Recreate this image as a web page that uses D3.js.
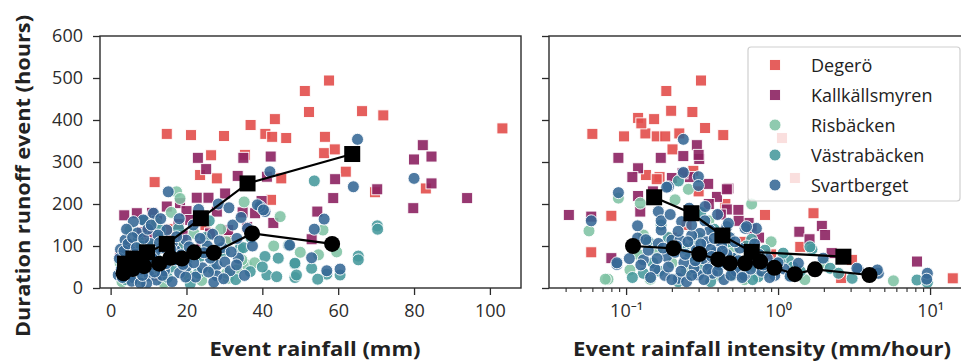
<!DOCTYPE html>
<html><head><meta charset="utf-8">
<script src="https://cdn.jsdelivr.net/npm/d3@7"></script>
<style>
body{margin:0;background:#fff;}
svg{display:block;font-family:"Open Sans","Noto Sans",sans-serif;}
</style></head><body>
<svg id="chart" width="961" height="363"></svg>
<script>
// ---------- categories ----------
const sites = ["Degerö","Kallkällsmyren","Risbäcken","Västrabäcken","Svartberget"];
const siteColors = ["#e24e4b","#8c2262","#7fc3a4","#45999c","#366895"];
const siteShapes = ["square","square","circle","circle","circle"];

// ---------- ticks ----------
const yTicks = [0,100,200,300,400,500,600];
const xTicksLeft = [0,20,40,60,80,100];
const xTicksRight = [0.1,1,10];
const xTickLabelsRight = ["10⁻¹","10⁰","10¹"];
const xMinorRight = [0.04,0.05,0.06,0.07,0.08,0.09,0.2,0.3,0.4,0.5,0.6,0.7,0.8,0.9,2,3,4,5,6,7,8,9];

// ---------- left panel: [event rainfall (mm), duration (h)] ----------
const degLeft = [[14.8,367],[21.2,364],[29.9,362],[36.9,388],[40.8,367],[42.6,360],[43.3,402],[46.3,357],[51.2,469],[52.3,419],[57.6,494],[56.5,360],[56.3,321],[59.1,330],[66.3,421],[71.9,411],[103.3,380],[62,277],[69.7,228],[83.1,237],[11.6,252],[28,261],[23.6,269],[45,261],[42.3,210],[35.4,317],[26.5,316],[5,85],[8.5,120],[10.5,60],[15.5,140],[18,95],[25,150],[30.5,120],[4,40],[12,30]];
const kalLeft = [[23,310],[35,310],[42.2,313],[25.2,283],[82.3,340],[80,306],[84.6,313],[59.2,259],[70.3,235],[84.6,249],[58.7,214],[79.8,190],[94,214],[54.5,182],[53,116],[33.5,267],[41.2,265],[3.6,173],[6.9,178],[10.9,179],[14.8,194],[18.3,202],[20,183],[22.7,215],[25.8,215],[30.2,225],[34.8,180],[38.1,178],[39.8,207],[42.9,155],[31,138],[17.9,152],[10.9,130],[8.2,133],[2.5,75],[14.8,114],[21,162],[26.2,130],[3,58],[5.2,100],[12.2,160],[28,182],[36,145],[19,125],[24,100],[8,90]];
const risLeft = [[17.4,229],[18.3,213],[44.7,170],[56,138],[59.6,86],[54.8,79],[30.6,110],[35.9,55],[31,23],[5.1,138],[34.6,67],[33.2,43],[30.6,35],[13,40],[8,20],[20.4,30],[25,95],[15,60],[11,100],[3,15],[6,50],[22,130],[27,70],[38,60],[16,180],[9,75],[2.5,60],[35.2,205],[14,12],[24,18],[29,140],[7,30],[12,155],[19,85],[43,100],[50,85]];
const vasLeft = [[53.7,255],[70.3,148],[70.4,140],[65.3,76],[65.3,67],[48.6,57],[53,47],[57,33],[60.5,31],[48.6,25],[54.6,21],[46.9,102],[40.7,75],[44.2,71],[48.6,59],[36.8,39],[41.2,31],[43.8,27],[49,31],[34.1,94],[35,96],[23.6,75],[23.1,35],[17.9,142],[13,138],[7.3,114],[13,122],[10,45],[6,30],[15,25],[20,65],[27,45],[4,20],[9,160],[18,100],[25,120],[30,85],[12,70],[3,35],[16,50],[33,20],[21,10],[8,100],[26,160],[37,120],[40,50]];
const svaLeft = [[65.1,354],[64,241],[80,261],[56.3,164],[53.7,140],[53,72],[57,41],[60.5,45],[42,277],[40.7,182],[39.4,194],[38.7,198],[40.3,186],[33.3,118],[33.7,71],[28,55],[20,51],[28,29],[17,90],[14.8,138],[11.3,178],[8.6,162],[6,158],[3.8,114],[10.4,106],[5.1,90],[2,31],[21.8,150],[23.6,162],[19.9,114],[17,67],[15.2,229],[47.2,102],[3.2,50],[4.4,72],[5.3,40],[6.2,24],[7.4,62],[8.1,44],[9.3,84],[10.2,29],[11.4,56],[12.1,19],[13.3,95],[14.2,41],[15.6,76],[16.3,108],[18.2,36],[19.1,56],[21.3,81],[22.4,26],[24.2,48],[25.5,100],[26.3,71],[27.2,14],[29.4,96],[30.1,62],[31.5,41],[32.2,150],[34.4,168],[36.1,142],[37.4,100],[12.5,126],[7.1,131],[5.6,16],[9.5,11],[16.2,15],[2.6,92],[4.2,140],[18.1,165],[23.2,187],[28.4,200],[31.2,191],[3.1,25],[4.8,58],[6.6,80],[7.8,12],[9.9,66],[11.8,88],[13.6,30],[2.8,44],
  [2.3,70],[3.5,88],[4.6,105],[5.8,120],[6.8,96],[7.9,75],[8.7,118],[9.8,140],[10.9,72],[11.6,38],[12.9,108],[14.6,58],[15.9,92],[17.4,122],[18.6,79],[19.8,26],[20.7,98],[21.9,60],[23.6,118],[24.6,84],[25.8,38],[26.9,128],[28.7,112],[29.8,22],[31.8,86],[33.2,55],[35.3,30],[5.2,62],[6.8,45],[8.4,30],[10.7,150],[13.2,165],[3.9,38]];

// ---------- right panel: [rainfall intensity (mm/h), duration (h)] ----------
const degRight = [[0.311,494],[0.184,469],[0.198,422],[0.273,419],[0.120,405],[0.153,402],[0.331,381],[0.436,364],[0.060,367],[0.097,361],[0.134,368],[0.159,361],[0.181,361],[0.224,368],[0.202,330],[0.126,392],[0.135,269],[0.166,264],[0.277,279],[0.080,172],[0.059,85],[0.82,174],[1.71,178],[2.62,71],[14.1,23],[0.159,259],[1.40,98],[3.06,67],[2.6,24],[1.06,357],[1.29,262],[0.3,230],[0.45,200],[0.25,150],[0.6,110],[0.9,80],[0.2,120]];
const kalRight = [[0.089,310],[0.120,285],[0.110,264],[0.169,310],[0.238,314],[0.292,340],[0.303,307],[0.2,262],[0.263,264],[0.347,248],[0.471,237],[0.120,219],[0.396,217],[0.042,174],[0.059,170],[0.124,182],[0.46,235],[0.46,187],[0.548,186],[1.38,134],[1.61,116],[1.94,148],[2.04,126],[8.2,63],[0.08,71],[0.64,155],[0.67,140],[0.235,273],[2.25,83],[0.3,317],[0.15,230],[0.35,200],[0.55,160],[0.75,120],[0.42,175]];
const risRight = [[0.257,235],[0.089,214],[0.21,210],[0.67,200],[0.057,136],[0.076,21],[5.74,17],[0.13,126],[0.073,21],[0.106,43],[0.144,21],[0.124,202],[0.3,120],[0.2,60],[0.5,90],[0.4,30],[0.7,50],[1.2,30],[0.16,90],[0.25,40],[0.6,20],[0.35,160],[0.9,110],[2.0,60],[0.45,130],[0.8,35],[1.5,20],[0.12,80]];
const vasRight = [[0.221,255],[0.67,116],[1.67,92],[1.62,98],[1.17,67],[2.2,47],[3.07,23],[8.2,19],[9.6,13],[0.263,75],[0.74,27],[1.03,63],[1.08,83],[0.15,60],[0.19,120],[0.28,100],[0.33,40],[0.38,140],[0.52,70],[0.58,45],[0.9,50],[0.13,35],[0.22,15],[0.47,110],[0.65,85],[1.4,40],[2.5,35],[0.17,150],[0.31,180],
  [0.11,25],[0.14,110],[0.165,40],[0.24,95],[0.3,55],[0.42,125],[0.5,30],[0.62,100],[0.68,20],[0.82,90],[1.25,50],[0.36,15]];
const svaRight = [[0.238,354],[0.238,275],[0.299,265],[0.299,244],[0.19,241],[0.089,227],[0.331,194],[0.059,160],[0.119,148],[0.087,56],[9.6,35],[4.57,35],[3.37,44.5],[0.46,146],[0.607,142],[0.72,142],[0.119,119],[0.185,240],[0.087,60],[0.13,67],[0.163,182],[0.17,138],[0.163,106],[0.2,114],[0.185,75],[0.232,158],[0.221,23],[0.299,31],[0.356,51],[0.356,138],[0.306,130],[0.471,154],[0.62,146],[0.577,31],[0.5,71],[0.226,114],[0.425,102],[1.36,59],[1.98,71],[3.3,47],[4.5,43],[9.5,21],[0.14,90],[0.155,45],[0.18,30],[0.21,85],[0.24,60],[0.27,125],[0.29,90],[0.32,70],[0.34,110],[0.37,35],[0.39,85],[0.41,55],[0.44,20],[0.48,120],[0.53,40],[0.56,95],[0.63,60],[0.7,105],[0.78,40],[0.85,70],[0.95,30],[1.1,45],[0.26,190],[0.4,175],[0.33,160],[0.115,100],[0.25,15],[0.36,92],[0.46,80],[0.28,48],[0.6,30],[0.75,80],[0.22,135],
  [0.105,70],[0.125,55],[0.135,115],[0.145,25],[0.16,70],[0.175,95],[0.19,50],[0.2,20],[0.215,100],[0.23,40],[0.245,80],[0.255,110],[0.27,30],[0.285,65],[0.31,105],[0.325,20],[0.345,45],[0.365,75],[0.38,118],[0.4,40],[0.43,88],[0.45,60],[0.49,30],[0.52,110],[0.55,65],[0.58,25],[0.66,45],[0.72,75],[0.8,55],[0.88,25],[1.0,60],[1.2,28],[0.17,160],[0.27,150],[0.195,175]];

// ---------- binned medians (black lines) ----------
const bogMedLeft = [[3.8,58],[6.0,70],[9.6,85],[14.8,105],[23.8,166],[36.1,249],[63.7,319]];
const streamMedLeft = [[3.4,35],[5.8,45],[8.8,52],[12.8,58],[15.8,72],[18.8,70],[22,85],[27.2,84],[37.3,130],[58.4,105]];
const bogMedRight = [[0.153,216],[0.269,178],[0.43,125],[0.671,86],[2.69,74.5]];
const streamMedRight = [[0.111,100],[0.205,94.5],[0.303,81],[0.404,68],[0.483,59],[0.607,59],[0.762,63],[0.946,48],[1.29,33],[1.75,44.5],[3.99,31]];

const leftData = [degLeft,kalLeft,risLeft,vasLeft,svaLeft];
const rightData = [degRight,kalRight,risRight,vasRight,svaRight];

// ---------- layout ----------
const svg = d3.select("#chart");
const plotTop = 36, plotBottom = 288;
const L = {x0:100, x1:521}, R = {x0:549, x1:967};
const ink = "#2b2b2b";

const y = d3.scaleLinear().domain([0,600]).range([plotBottom, plotTop]);
const xL = d3.scaleLinear().domain([-2.8,108.2]).range([L.x0, L.x1]);
const xR = d3.scaleLog().domain([0.0311,17.5]).range([R.x0, R.x1]);

const defs = svg.append("defs");
defs.append("clipPath").attr("id","clipL").append("rect")
  .attr("x",L.x0).attr("y",plotTop).attr("width",L.x1-L.x0).attr("height",plotBottom-plotTop);
defs.append("clipPath").attr("id","clipR").append("rect")
  .attr("x",R.x0).attr("y",plotTop).attr("width",R.x1-R.x0).attr("height",plotBottom-plotTop);

function drawMarks(g, x, datasets){
  datasets.forEach((data,i)=>{
    const col = siteColors[i];
    const sel = g.append("g").attr("class","site-"+i);
    if(siteShapes[i]==="square"){
      sel.selectAll("rect").data(data).join("rect")
        .attr("x",d=>x(d[0])-5.5).attr("y",d=>y(d[1])-5.5)
        .attr("width",11).attr("height",11)
        .attr("fill",col).attr("fill-opacity",0.9)
        .attr("stroke","#fff").attr("stroke-width",0.9);
    } else {
      sel.selectAll("circle").data(data).join("circle")
        .attr("cx",d=>x(d[0])).attr("cy",d=>y(d[1])).attr("r",6)
        .attr("fill",col).attr("fill-opacity",0.88)
        .attr("stroke","#fff").attr("stroke-width",0.9);
    }
  });
}
function drawMedians(g, x, sq, ci){
  const line = d3.line().x(d=>x(d[0])).y(d=>y(d[1]));
  g.append("path").attr("d",line(sq)).attr("fill","none").attr("stroke","#000").attr("stroke-width",2.2);
  g.append("path").attr("d",line(ci)).attr("fill","none").attr("stroke","#000").attr("stroke-width",2.2);
  g.selectAll("rect.med").data(sq).join("rect").attr("class","med")
    .attr("x",d=>x(d[0])-8).attr("y",d=>y(d[1])-8).attr("width",16).attr("height",16).attr("fill","#000");
  g.selectAll("circle.med").data(ci).join("circle").attr("class","med")
    .attr("cx",d=>x(d[0])).attr("cy",d=>y(d[1])).attr("r",8).attr("fill","#000");
}

const gL = svg.append("g").attr("clip-path","url(#clipL)");
drawMarks(gL, xL, leftData);
drawMedians(gL, xL, bogMedLeft, streamMedLeft);
const gR = svg.append("g").attr("clip-path","url(#clipR)");
drawMarks(gR, xR, rightData);
drawMedians(gR, xR, bogMedRight, streamMedRight);

// ---------- axes ----------
function styleAxis(g){
  g.select(".domain").remove();
  g.selectAll(".tick line").attr("stroke",ink).attr("stroke-width",1.3);
  g.selectAll(".tick text").attr("fill",ink).attr("font-size",18).attr("font-family",'"Open Sans","Noto Sans",sans-serif');
}
const ayL = svg.append("g").attr("transform",`translate(${L.x0},0)`)
  .call(d3.axisLeft(y).tickValues(yTicks).tickSize(7).tickPadding(10).tickFormat(d3.format("d")));
styleAxis(ayL);
const axL = svg.append("g").attr("transform",`translate(0,${plotBottom})`)
  .call(d3.axisBottom(xL).tickValues(xTicksLeft).tickSize(7).tickPadding(9).tickFormat(d3.format("d")));
styleAxis(axL);
const ayR = svg.append("g").attr("transform",`translate(${R.x0},0)`)
  .call(d3.axisLeft(y).tickValues(yTicks).tickSize(7).tickFormat(""));
styleAxis(ayR);
const axR = svg.append("g").attr("transform",`translate(0,${plotBottom})`)
  .call(d3.axisBottom(xR).tickValues(xTicksRight).tickSize(7).tickPadding(9)
    .tickFormat((d,i)=>xTickLabelsRight[i]));
styleAxis(axR);
const axRm = svg.append("g").attr("transform",`translate(0,${plotBottom})`)
  .call(d3.axisBottom(xR).tickValues(xMinorRight).tickSize(4).tickFormat(""));
styleAxis(axRm);
axRm.selectAll(".tick line").attr("stroke-width",1.1);

svg.append("rect").attr("x",L.x0).attr("y",plotTop).attr("width",L.x1-L.x0).attr("height",plotBottom-plotTop)
  .attr("fill","none").attr("stroke",ink).attr("stroke-width",1.4);
svg.append("rect").attr("x",R.x0).attr("y",plotTop).attr("width",R.x1-R.x0).attr("height",plotBottom-plotTop)
  .attr("fill","none").attr("stroke",ink).attr("stroke-width",1.4);

// ---------- axis labels ----------
svg.append("text").text("Event rainfall (mm)")
  .attr("x",315).attr("y",356).attr("text-anchor","middle")
  .attr("font-size",20).attr("font-weight","bold").attr("fill","#222")
  .attr("textLength",211).attr("lengthAdjust","spacingAndGlyphs");
svg.append("text").text("Event rainfall intensity (mm/hour)")
  .attr("x",762).attr("y",356).attr("text-anchor","middle")
  .attr("font-size",20).attr("font-weight","bold").attr("fill","#222")
  .attr("textLength",378).attr("lengthAdjust","spacingAndGlyphs");
svg.append("text").text("Duration runoff event (hours)")
  .attr("transform","translate(30,176) rotate(-90)").attr("text-anchor","middle")
  .attr("font-size",20).attr("font-weight","bold").attr("fill","#222")
  .attr("textLength",322).attr("lengthAdjust","spacingAndGlyphs");

// ---------- legend ----------
const lg = svg.append("g");
lg.append("rect").attr("x",748).attr("y",47).attr("width",212).attr("height",154).attr("rx",3)
  .attr("fill","#fff").attr("fill-opacity",0.8).attr("stroke","#cfcfcf").attr("stroke-width",1.2);
sites.forEach((s,i)=>{
  const cy = 65 + i*30;
  if(siteShapes[i]==="square"){
    lg.append("rect").attr("x",775-5.5).attr("y",cy-5.5).attr("width",11).attr("height",11)
      .attr("fill",siteColors[i]).attr("fill-opacity",0.9).attr("stroke","#fff").attr("stroke-width",0.9);
  } else {
    lg.append("circle").attr("cx",775).attr("cy",cy).attr("r",6)
      .attr("fill",siteColors[i]).attr("fill-opacity",0.88).attr("stroke","#fff").attr("stroke-width",0.9);
  }
  lg.append("text").text(s).attr("x",811).attr("y",cy+6.5)
    .attr("font-size",18).attr("fill","#222");
});
</script>
</body></html>
